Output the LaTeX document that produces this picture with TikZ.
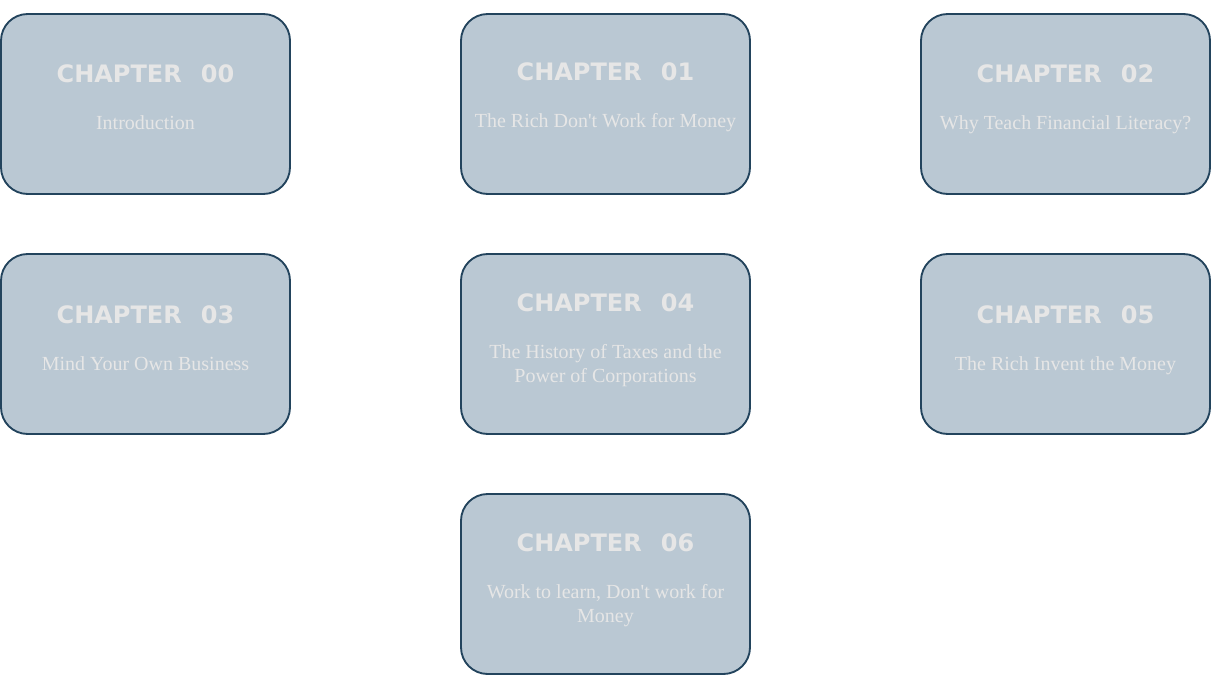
\documentclass[tikz,border=0pt]{standalone}
\usepackage{fontspec}
\setmainfont{Liberation Serif}
\newfontfamily\headfont{DejaVu Sans}
\definecolor{boxfill}{HTML}{BAC8D3}
\definecolor{boxdraw}{HTML}{23445D}
\definecolor{txtcol}{HTML}{E6E6E6}
\begin{document}
\begin{tikzpicture}[x=0.75pt,y=-0.75pt,
  chapbox/.style={draw=boxdraw, fill=boxfill, line width=1.4pt, rounded corners=20pt,
    minimum width=216.75pt, minimum height=135pt, inner sep=0pt},
  head/.style={text=txtcol, font=\headfont\bfseries\fontsize{18}{22}\selectfont, inner sep=0pt, anchor=base},
  sub/.style={text=txtcol, font=\fontsize{15}{18}\selectfont, align=center, inner sep=0pt, anchor=base}]
\useasboundingbox (0,0) rectangle (1212,677);
% boxes
\node[chapbox] (b0) at (145.5,104) {};
\node[chapbox] (b1) at (605.5,104) {};
\node[chapbox] (b2) at (1065.5,104) {};
\node[chapbox] (b3) at (145.5,344) {};
\node[chapbox] (b4) at (605.5,344) {};
\node[chapbox] (b5) at (1065.5,344) {};
\node[chapbox] (b6) at (605.5,584) {};
% headings
\node[head] (h0) at (145.5,83) {CHAPTER\hspace{0.8em}00};
\node[head] (h1) at (605.5,81) {CHAPTER\hspace{0.8em}01};
\node[head] (h2) at (1065.5,83) {CHAPTER\hspace{0.8em}02};
\node[head] (h3) at (145.5,323) {CHAPTER\hspace{0.8em}03};
\node[head] (h4) at (605.5,311) {CHAPTER\hspace{0.8em}04};
\node[head] (h5) at (1065.5,323) {CHAPTER\hspace{0.8em}05};
\node[head] (h6) at (605.5,551) {CHAPTER\hspace{0.8em}06};
% subtitles
\node[sub] (s0) at (145.5,130) {Introduction};
\node[sub] (s1) at (605.5,128) {The Rich Don\textquotesingle t Work for Money};
\node[sub] (s2) at (1065.5,130) {Why Teach Financial Literacy?};
\node[sub] (s3) at (145.5,370) {Mind Your Own Business};
\node[sub] (s4) at (605.5,382) {The History of Taxes and the\\Power of Corporations};
\node[sub] (s5) at (1065.5,370) {The Rich Invent the Money};
\node[sub] (s6) at (605.5,622) {Work to learn, Don\textquotesingle t work for\\Money};
\end{tikzpicture}
\end{document}
